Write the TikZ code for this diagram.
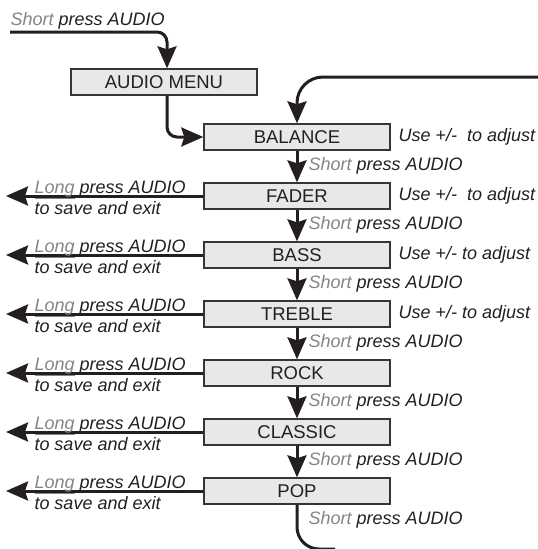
\documentclass[tikz,border=0pt]{standalone}
\usepackage{fontspec}
\setmainfont{Liberation Sans}
\usetikzlibrary{arrows.meta}
\definecolor{ink}{HTML}{231F20}
\definecolor{shade}{HTML}{858585}
\definecolor{boxfill}{HTML}{E8E8E8}
\newcommand{\shortpress}{{\color{shade}Short} press AUDIO}
\newcommand{\longpress}{{\color{shade}\underline{Long}} press AUDIO}

\begin{document}
\begin{tikzpicture}[x=1pt,y=-1pt,font=\fontsize{18.5}{20}\selectfont,line width=3pt,
  menubox/.style={draw=ink!90,fill=boxfill,line width=1.4pt,minimum width=186pt,minimum height=26pt,inner sep=0pt,text=ink},
  flow/.style={draw=ink,line width=3pt,-{Stealth[length=22pt,width=19pt,inset=3pt]}},
  hint/.style={text=ink,font=\fontsize{18}{19}\selectfont\itshape,inner sep=0pt}]
  \useasboundingbox (0,0) rectangle (538,549);
  % entry
  \node[hint,anchor=base west] (start) at (9,25) {\shortpress};
  \coordinate (in) at (10,32);
  \node[menubox] (menu) at (164,82) {AUDIO MENU};
  \draw[flow,rounded corners=10pt] (in) -| ([xshift=3pt]menu.north);
  % settings
  \node[menubox] (balance) at (297,137) {BALANCE};
  \node[menubox] (fader) at (297,196) {FADER};
  \node[menubox] (bass) at (297,255) {BASS};
  \node[menubox] (treble) at (297,314) {TREBLE};
  \node[menubox] (rock) at (297,373) {ROCK};
  \node[menubox] (classic) at (297,432) {CLASSIC};
  \node[menubox] (pop) at (297,491) {POP};
  \draw[flow,rounded corners=10pt] ([xshift=3pt]menu.south) |- (balance.west);
  \coordinate (back) at (540,77);
  \draw[flow,rounded corners=26pt] (back) -| (balance.north);
  % adjust hints
  \node[hint,anchor=west] (adjbal) at (397,137) {Use +/-\ \ to adjust};
  \node[hint,anchor=west] (adjfad) at (397,196) {Use +/-\ \ to adjust};
  \node[hint,anchor=west] (adjbas) at (397,255) {Use +/- to adjust};
  \node[hint,anchor=west] (adjtre) at (397,314) {Use +/- to adjust};
  % next item
  \foreach \a/\b/\y in {balance/fader/166,fader/bass/225,bass/treble/284,treble/rock/343,rock/classic/402,classic/pop/461}{
    \draw[flow] (\a.south) -- (\b.north);
    \node[hint,anchor=west] (s\a) at (307,\y) {\shortpress};
  }
  \node[hint,anchor=west] (spop) at (307,520) {\shortpress};
  \coordinate (out) at (335,549);
  \draw[ink,rounded corners=22pt] (pop.south) |- (out);
  % save and exit
  \foreach \n/\y in {fader/196,bass/255,treble/314,rock/373,classic/432,pop/491}{
    \coordinate (x\n) at (6,\y);
    \draw[flow] (\n.west) -- (x\n);
    \node[hint,anchor=base west] (l\n) at (33,\y-2.5) {\longpress};
    \node[hint,anchor=north west] (e\n) at (33,\y+4) {to save and exit};
  }
\end{tikzpicture}
\end{document}
